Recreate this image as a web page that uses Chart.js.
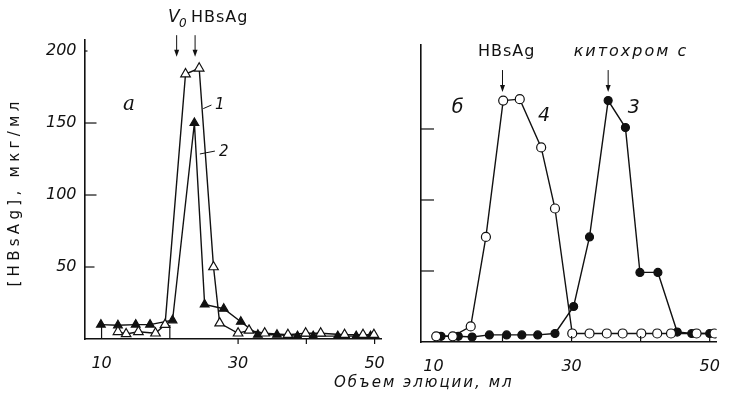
<!DOCTYPE html>
<html>
<head>
<meta charset="utf-8">
<script src="https://cdn.jsdelivr.net/npm/chart.js@4/dist/chart.umd.min.js"></script>
<style>
body { margin:0; background:#fff; }
#wrap { position:relative; width:735px; height:403px; background:#fff; overflow:hidden; }
#cA { position:absolute; left:0; top:0; }
#cB { position:absolute; left:400px; top:0; }
#xt { position:absolute; left:334px; top:373px; font:italic 15px "DejaVu Sans"; letter-spacing:2px; color:#111; white-space:nowrap; }
#yt { position:absolute; left:-96px; top:183px; width:220px; text-align:center; transform:rotate(-90deg);
      font:15px "DejaVu Sans"; letter-spacing:4.3px; color:#111; white-space:nowrap; }
</style>
</head>
<body>
<div id="wrap">
  <canvas id="cA" width="400" height="403"></canvas>
  <canvas id="cB" width="335" height="403"></canvas>
  <div id="yt">[HBsAg], мкг/мл</div>
  <div id="xt">Объем элюции, мл</div>
</div>
<script>
// panel a: curve 1 (open triangles), curve 2 (filled triangles)
const x1 = [12.4, 13.6, 15.4, 17.9, 19.3, 22.3, 24.3, 26.4, 27.3, 30.0, 31.6, 33.9, 37.3, 39.9, 42.1, 45.6, 48.3, 49.9];
const y1 = [5, 3.5, 5, 4, 10, 184, 188, 50, 11, 4, 6, 4, 3, 4, 4, 3, 3, 3];
const x2 = [9.9, 12.4, 15.0, 17.1, 20.4, 23.6, 25.1, 27.9, 30.4, 32.9, 35.7, 38.7, 41.0, 44.6, 47.3, 49.4];
const y2 = [10, 9.5, 10, 10, 13, 150, 24, 21, 12, 3, 3, 2, 2, 2, 2, 2];
// panel б: curve 3 (cytochrome c, filled circles), curve 4 (HBsAg, open circles)
const x3 = [11.1, 13.6, 15.6, 18.1, 20.6, 22.8, 25.1, 27.6, 30.3, 32.6, 35.3, 37.8, 39.9, 42.5, 45.3, 47.4, 50.0];
const y3 = [4, 4, 3.5, 5, 5, 5, 5, 6, 25, 74, 170, 151, 49, 49, 7, 6, 6];
const x4 = [10.4, 12.8, 15.4, 17.6, 20.1, 22.5, 25.6, 27.6, 30.1, 32.6, 35.1, 37.4, 40.1, 42.4, 44.4, 48.1, 50.7];
const y4 = [4, 4, 11, 74, 170, 171, 137, 94, 6, 6, 6, 6, 6, 6, 6, 6, 6];

const xTicks = [10, 20, 30, 40, 50];
const xLabels = [10, 30, 50];
const yTicksA = [50, 100, 150, 200];
const yTicksB = [50, 100, 150];

const ink = '#111';
const tickFont = { family: 'DejaVu Sans', size: 16, style: 'italic' };

function pts(xs, ys) {
  return xs.map((v, i) => ({ x: v, y: ys[i] }));
}

// inward ticks + annotations, all placed through the chart scales
const decor = {
  id: 'decor',
  afterDraw(chart, args, o) {
    const ctx = chart.ctx, xs = chart.scales.x, ys = chart.scales.y;
    const X = v => xs.getPixelForValue(v), Y = v => ys.getPixelForValue(v);
    ctx.save();
    ctx.strokeStyle = ink; ctx.fillStyle = ink; ctx.lineWidth = 1.2;
    (o.yMarks || []).forEach(m => {
      ctx.beginPath(); ctx.moveTo(xs.left, Y(m[0])); ctx.lineTo(xs.left + m[1], Y(m[0])); ctx.stroke();
    });
    (o.xMarks || []).forEach(m => {
      ctx.beginPath(); ctx.moveTo(X(m[0]), ys.bottom); ctx.lineTo(X(m[0]), ys.bottom - m[1]); ctx.stroke();
    });
    (o.arrows || []).forEach(a => {
      const x = X(a[0]), y0 = Y(a[1]), y1 = Y(a[2]);
      ctx.lineWidth = 1;
      ctx.beginPath(); ctx.moveTo(x, y0); ctx.lineTo(x, y1 - 5); ctx.stroke();
      ctx.beginPath(); ctx.moveTo(x - 2.5, y1 - 7); ctx.lineTo(x + 2.5, y1 - 7); ctx.lineTo(x, y1); ctx.closePath(); ctx.fill();
    });
    (o.leaders || []).forEach(l => {
      ctx.lineWidth = 1;
      ctx.beginPath(); ctx.moveTo(X(l[0]), Y(l[1])); ctx.lineTo(X(l[2]), Y(l[3])); ctx.stroke();
    });
    ctx.textAlign = 'center'; ctx.textBaseline = 'middle';
    (o.texts || []).forEach(t => {
      ctx.font = t.font;
      ctx.letterSpacing = t.ls || '0px';
      ctx.fillText(t.s, X(t.x), Y(t.y));
      if (t.sub) {
        const w = ctx.measureText(t.s).width;
        ctx.font = 'italic 12px "DejaVu Sans"';
        ctx.fillText(t.sub, X(t.x) + w / 2 + 3, Y(t.y) + 6);
      }
    });
    ctx.restore();
  }
};

function makeOptions(xmin, xmax, ymax, yW, xH, padTop, padRight, yTicks, showY, extra) {
  return {
    responsive: false,
    animation: false,
    layout: { padding: { top: padTop, right: padRight, left: 0, bottom: 0 } },
    plugins: { legend: { display: false }, tooltip: { enabled: false }, decor: extra },
    scales: {
      x: {
        type: 'linear', min: xmin, max: xmax,
        afterBuildTicks: s => { s.ticks = xTicks.map(v => ({ value: v })); },
        afterFit: s => { s.height = xH; },
        grid: { display: false, drawTicks: false },
        border: { color: ink, width: 1.6 },
        ticks: {
          color: ink, font: tickFont, padding: 15, maxRotation: 0, autoSkip: false,
          callback: v => xLabels.includes(v) ? String(v) : ''
        }
      },
      y: {
        type: 'linear', min: 0, max: ymax,
        afterBuildTicks: s => { s.ticks = yTicks.map(v => ({ value: v })); },
        afterFit: s => { s.width = yW; },
        grid: { display: false, drawTicks: false },
        border: { color: ink, width: 1.6 },
        ticks: { display: showY, color: ink, font: tickFont, padding: 8 }
      }
    }
  };
}

const lineBase = { borderColor: ink, borderWidth: 1.4, showLine: true, pointBorderColor: ink, pointBorderWidth: 1.2 };

new Chart(document.getElementById('cA'), {
  type: 'scatter',
  data: {
    datasets: [
      Object.assign({}, lineBase, { label: '1', data: pts(x1, y1), pointStyle: 'triangle', pointRadius: 5.5, pointBackgroundColor: '#fff', order: 1 }),
      Object.assign({}, lineBase, { label: '2', data: pts(x2, y2), pointStyle: 'triangle', pointRadius: 5, pointBackgroundColor: ink, order: 2 })
    ]
  },
  options: makeOptions(7.5, 51, 208, 84.5, 64, 39.5, 9, yTicksA, true, {
    yMarks: [[50, 10], [100, 12], [150, 12], [200, 3]],
    xMarks: [[10, 14], [20, 14], [30, -5], [40, -5], [50, -5]],
    arrows: [[21.0, 211, 196], [23.7, 211, 196]],
    leaders: [[24.9, 160, 26.1, 162.5], [24.4, 128.5, 26.6, 130.5]],
    texts: [
      { s: 'V', sub: '0', x: 20.6, y: 223, font: 'italic 17px "DejaVu Sans"' },
      { s: 'HBsAg', x: 27.3, y: 223, font: '16px "DejaVu Sans"', ls: '1px' },
      { s: 'а', x: 14, y: 162.5, font: 'italic 20px "DejaVu Serif"' },
      { s: '1', x: 27.3, y: 162.5, font: 'italic 15px "DejaVu Sans"' },
      { s: '2', x: 27.9, y: 130, font: 'italic 15px "DejaVu Sans"' }
    ]
  }),
  plugins: [decor]
});

new Chart(document.getElementById('cB'), {
  type: 'scatter',
  data: {
    datasets: [
      Object.assign({}, lineBase, { label: '4', data: pts(x4, y4), pointStyle: 'circle', pointRadius: 4.5, pointBackgroundColor: '#fff', order: 1 }),
      Object.assign({}, lineBase, { label: '3', data: pts(x3, y3), pointStyle: 'circle', pointRadius: 4, pointBackgroundColor: ink, order: 2 })
    ]
  },
  options: makeOptions(8.2, 51, 209, 21, 61, 45.2, 5.8, yTicksB, false, {
    yMarks: [[50, 13], [100, 13], [150, 13]],
    xMarks: [[20, 6], [30, 6], [40, 6], [50, 6]],
    arrows: [[20.0, 191.5, 176], [35.3, 191.5, 176]],
    texts: [
      { s: 'HBsAg', x: 20.6, y: 204, font: '16px "DejaVu Sans"', ls: '1px' },
      { s: 'китохром с', x: 38.6, y: 204, font: 'italic 16px "DejaVu Sans"', ls: '2px' },
      { s: 'б', x: 13.5, y: 165, font: 'italic 19px "DejaVu Sans"' },
      { s: '4', x: 26.0, y: 159, font: 'italic 19px "DejaVu Sans"' },
      { s: '3', x: 39.0, y: 165, font: 'italic 19px "DejaVu Sans"' }
    ]
  }),
  plugins: [decor]
});
</script>
</body>
</html>
